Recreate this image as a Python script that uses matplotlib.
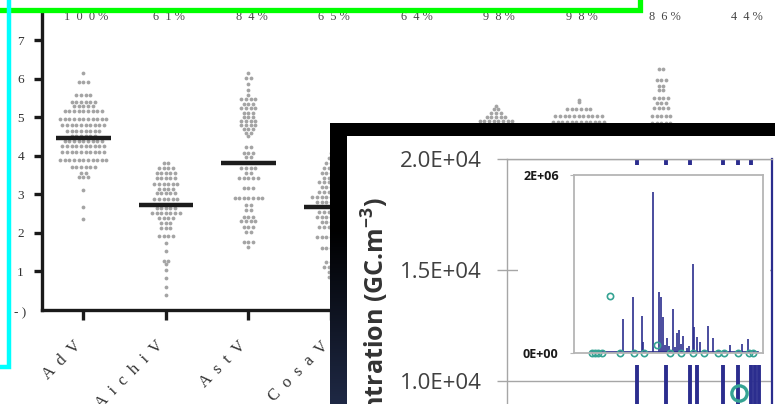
import numpy as np
import matplotlib
matplotlib.use('Agg')
import matplotlib.pyplot as plt
from matplotlib import patches, transforms
from matplotlib.ticker import FuncFormatter

plt.rcParams['font.family'] = ['Liberation Serif', 'DejaVu Serif']
plt.rcParams['mathtext.fontset'] = 'custom'
plt.rcParams['mathtext.rm'] = 'Open Sans'
plt.rcParams['mathtext.bf'] = 'Open Sans:bold'

# --- dot plot: log10 GC per sample, rows of (level, count) per virus ---
categories = ['AdV', 'AichiV', 'AstV', 'CosaV', 'EV', 'HPyV', 'NoV', 'PMMoV', 'RoV']
detection = ['100 %', '61 %', '84 %', '65 %', '64 %', '98 %', '98 %', '86 %', '44 %']
medians = [4.45, 2.72, 3.80, 2.68, 3.40, 4.35, 4.60, 4.60, 3.60]

adv_levels = [6.15, 5.90, 5.58, 5.40, 5.30, 5.15, 4.95, 4.80, 4.65, 4.52, 4.38, 4.25, 4.10, 3.88, 3.70, 3.55, 3.45, 3.12, 2.68, 2.35]
adv_counts = [1, 3, 4, 6, 5, 9, 11, 10, 8, 6, 9, 10, 10, 11, 6, 2, 3, 1, 1, 1]
aichiv_levels = [3.80, 3.67, 3.55, 3.42, 3.28, 3.15, 3.03, 2.87, 2.64, 2.51, 2.38, 2.25, 2.13, 1.93, 1.73, 1.52, 1.27, 1.20, 1.05, 0.82, 0.60, 0.40]
aichiv_counts = [2, 4, 5, 5, 6, 4, 5, 6, 5, 7, 4, 3, 3, 4, 1, 1, 2, 1, 1, 1, 1, 1]
astv_levels = [6.15, 6.02, 5.85, 5.70, 5.57, 5.46, 5.35, 5.25, 5.12, 5.00, 4.90, 4.80, 4.70, 4.60, 4.52, 4.23, 4.07, 3.96, 3.67, 3.55, 3.42, 3.16, 2.90, 2.72, 2.60, 2.40, 2.30, 2.15, 2.02, 1.76, 1.63]
astv_counts = [1, 2, 1, 1, 1, 4, 3, 4, 3, 3, 4, 4, 3, 2, 1, 2, 3, 2, 4, 2, 5, 3, 7, 2, 2, 3, 4, 3, 2, 3, 1]
cosav_levels = [4.07, 3.95, 3.80, 3.67, 3.55, 3.43, 3.32, 3.19, 3.06, 2.93, 2.80, 2.53, 2.40, 2.28, 2.15, 1.89, 1.61, 1.25, 1.11, 0.98, 0.85]
cosav_counts = [1, 2, 3, 4, 5, 4, 6, 5, 6, 9, 7, 6, 7, 5, 6, 7, 5, 3, 4, 2, 2]
ev_levels = [4.50, 4.30, 4.10, 3.90, 3.70, 3.50, 3.30, 3.10, 2.90, 2.70, 2.50, 2.20, 1.90]
ev_counts = [1, 2, 4, 5, 6, 7, 6, 5, 4, 3, 2, 1, 1]
hpyv_levels = [5.30, 5.22, 5.10, 5.00, 4.90, 4.75, 4.60, 4.45, 4.30, 4.15, 4.00, 3.85, 3.70, 3.50, 3.30, 3.00, 2.70]
hpyv_counts = [1, 2, 3, 5, 8, 9, 10, 10, 9, 8, 7, 6, 5, 4, 3, 2, 1]
nov_levels = [5.45, 5.40, 5.20, 5.03, 4.88, 4.72, 4.58, 4.43, 4.28, 4.12, 3.96, 3.80, 3.60, 3.30, 3.00]
nov_counts = [1, 1, 6, 11, 12, 12, 11, 10, 9, 7, 6, 4, 3, 2, 1]
pmmov_levels = [6.25, 5.96, 5.80, 5.70, 5.50, 5.36, 5.25, 5.03, 4.85, 4.70, 4.55, 4.40, 4.25, 4.10, 3.90, 3.70, 3.40, 3.10, 2.80]
pmmov_counts = [2, 3, 2, 2, 4, 3, 4, 5, 5, 6, 6, 5, 5, 4, 3, 3, 2, 1, 1]
rov_levels = [4.60, 4.40, 4.20, 4.00, 3.80, 3.60, 3.40, 3.20, 3.00, 2.70, 2.40]
rov_counts = [1, 2, 3, 4, 5, 5, 4, 3, 2, 1, 1]

all_levels = [adv_levels, aichiv_levels, astv_levels, cosav_levels, ev_levels,
              hpyv_levels, nov_levels, pmmov_levels, rov_levels]
all_counts = [adv_counts, aichiv_counts, astv_counts, cosav_counts, ev_counts,
              hpyv_counts, nov_counts, pmmov_counts, rov_counts]

# --- time series panel: concentration (GC.m-3) by day ---
outer_days = [179, 219, 252, 262, 297, 318, 336, 342, 347]
outer_vals = [42000, 31000, 26000, 16000, 55000, 29000, 36000, 14000, 17000]
outer_mark_day = [320]
outer_mark_val = [9460]

inset_days = [67, 81, 93, 95, 109, 117, 120, 122, 125, 128, 131, 136, 139, 142, 144, 147,
              150, 155, 158, 164, 165, 169, 173, 184, 191, 215, 231, 239]
inset_vals = [0.38e6, 0.63e6, 0.42e6, 0.12e6, 1.81e6, 0.69e6, 0.63e6, 0.41e6, 0.09e6, 0.17e6,
              0.08e6, 0.50e6, 0.07e6, 0.23e6, 0.26e6, 0.10e6, 0.19e6, 0.06e6, 0.08e6, 1.00e6,
              0.29e6, 0.18e6, 0.12e6, 0.30e6, 0.17e6, 0.09e6, 0.10e6, 0.16e6]
inset_base_days = [25, 253]
inset_base_vals = [1.5e4, 1.5e4]
circle_days = [25, 29, 33, 38, 50, 63, 82, 96, 114, 132, 147, 164, 179, 198, 206, 226, 241, 246]
circle_vals = [0, 0, 0, 0, 0.64e6, 0, 0, 0, 0.09e6, 0, 0, 0, 0, 0, 0, 0, 0, 0]

NAVY = '#2b2d8e'
TEAL = '#35a393'
W, H = 775, 404

fig = plt.figure(figsize=(W / 100, H / 100), dpi=100)


def box(x0, y0, x1, y1):
    # pixel box (top-left origin) -> figure rect
    return [x0 / W, 1 - y1 / H, (x1 - x0) / W, (y1 - y0) / H]


# dot plot
ax1 = fig.add_axes(box(42, 10, 785, 310))
for i, (lv, ct) in enumerate(zip(all_levels, all_counts)):
    xs, ys = [], []
    for v, n in zip(lv, ct):
        offs = (np.arange(n) - (n - 1) / 2) * 0.056
        xs.extend(i + offs)
        ys.extend([v] * n)
    ax1.scatter(xs, ys, s=7.5, color='#a4a4a4', linewidths=0, zorder=2)
    ax1.hlines(medians[i], i - 0.33, i + 0.33, color='#1c1c1c', lw=3.2, zorder=3)

ax1.set_xlim(-0.5, 8.5)
ax1.set_ylim(0, 7.78)
for s in ['top', 'right']:
    ax1.spines[s].set_visible(False)
for s in ['left', 'bottom']:
    ax1.spines[s].set_linewidth(2.4)
    ax1.spines[s].set_color('#1a1a1a')
ax1.set_yticks(range(1, 8))
ax1.tick_params(axis='y', length=6, width=2.4, pad=7, labelsize=9.5,
                labelcolor='#333333', color='#1a1a1a')
ax1.set_xticks(range(9))
ax1.set_xticklabels([])
ax1.tick_params(axis='x', length=7, width=2.4, color='#1a1a1a')

top_tr = transforms.blended_transform_factory(ax1.transData, ax1.transAxes)
for i, p in enumerate(detection):
    ax1.text(i + 0.04, 0.977, '  '.join(p.replace(' %', '%')[:-1]) + ' %',
             transform=top_tr, ha='center', va='center', fontsize=8.8,
             color='#444444', clip_on=False)

lab_tr = transforms.blended_transform_factory(ax1.transData, fig.transFigure)
for i, c in enumerate(categories):
    ax1.text(i + 0.01, 1 - 338 / H, '  '.join(c), transform=lab_tr, rotation=45,
             ha='right', va='top', fontsize=12, color='#333333')
fig.text(14 / W, 1 - 313 / H, '- )', fontsize=9.5, color='#333333', va='center')

# dark frame of the time series panel
fig.add_artist(patches.Rectangle((330 / W, 0), 1, 1 - 123 / H, transform=fig.transFigure,
                                 facecolor='black', edgecolor='none', zorder=2))
gax = fig.add_axes(box(330, 136, 347, 404))
gax.set_zorder(3)
t = np.linspace(0, 1, 200)[:, None]
ramp = np.clip((t - 0.35) / 0.65, 0, 1)
grad = np.dstack([ramp * 0.12, ramp * 0.16, ramp * 0.27])
gax.imshow(grad, aspect='auto', extent=[0, 1, 0, 1])
gax.axis('off')
fig.add_artist(patches.Rectangle((347 / W, 0), 1, 1 - 136 / H, transform=fig.transFigure,
                                 facecolor='white', edgecolor='none', zorder=3))

# outer time series
ax2 = fig.add_axes(box(507, 159, 772, 603))
ax2.set_zorder(4)
ax2.set_facecolor('none')
ax2.vlines(outer_days, 0, outer_vals, colors=NAVY, lw=2.8)
ax2.plot(outer_mark_day, outer_mark_val, 'o', mfc='none', mec=TEAL, ms=11, mew=2.4)
ax2.set_xlim(0, 365)
ax2.set_ylim(0, 20000)
ax2.set_yticks([0, 5000, 10000, 15000, 20000])
ax2.yaxis.set_major_formatter(FuncFormatter(lambda v, p: f'{v:.1E}'))
ax2.set_xticks([])
ax2.grid(axis='y', color='#a6a6a6', lw=1)
ax2.tick_params(axis='y', length=7, width=1, color='#a6a6a6', pad=11,
                labelsize=16, labelcolor='#404040')
for lbl in ax2.get_yticklabels():
    lbl.set_family('Open Sans')
for s in ['left', 'top']:
    ax2.spines[s].set_color('#a6a6a6')
    ax2.spines[s].set_linewidth(1)
ax2.spines['bottom'].set_visible(False)
ax2.spines['right'].set_color(NAVY)
ax2.spines['right'].set_linewidth(1.6)

fig.text(375 / W, 1 - 197 / H, r'Concentration (GC.m$^{\mathbf{-3}}$)', rotation=90,
         ha='center', va='top', fontsize=18, fontweight='bold', family='Open Sans',
         color='#333333', zorder=5)

# inset with the full range
fig.add_artist(patches.Rectangle((518 / W, 1 - 365 / H), (770 - 518) / W, (365 - 165) / H,
                                 transform=fig.transFigure, facecolor='white',
                                 edgecolor='none', zorder=5))
ax3 = fig.add_axes(box(574, 175, 763, 353))
ax3.set_zorder(6)
ax3.plot(inset_base_days, inset_base_vals, color=NAVY, lw=1.2)
ax3.vlines(inset_days, 0, inset_vals, colors=NAVY, lw=1.2)
ax3.plot(circle_days, circle_vals, 'o', mfc='none', mec=TEAL, ms=4.5, mew=1.2, clip_on=False)
ax3.set_xlim(0, 260)
ax3.set_ylim(0, 2e6)
ax3.set_xticks([])
ax3.set_yticks([0, 2e6])
ax3.set_yticklabels(['0E+00', '2E+06'], fontsize=9, fontweight='bold', family='Open Sans',
                    color='#1a1a1a')
ax3.tick_params(axis='y', length=3, color='#b5b5b5', pad=8)
for s in ax3.spines.values():
    s.set_color('#b5b5b5')
    s.set_linewidth(1.3)

# highlight outlines
fig.add_artist(patches.Rectangle((-20 / W, 1 - 10 / H), (640 + 20) / W, 40 / H,
                                 transform=fig.transFigure, facecolor='none',
                                 edgecolor='#00ff00', lw=3.8, zorder=10, clip_on=False))
fig.add_artist(patches.Rectangle((-20 / W, 1 - 367 / H), (9 + 20) / W, 420 / H,
                                 transform=fig.transFigure, facecolor='none',
                                 edgecolor='#00ffff', lw=3.2, zorder=11, clip_on=False))

fig.savefig('out.png', dpi=100)
